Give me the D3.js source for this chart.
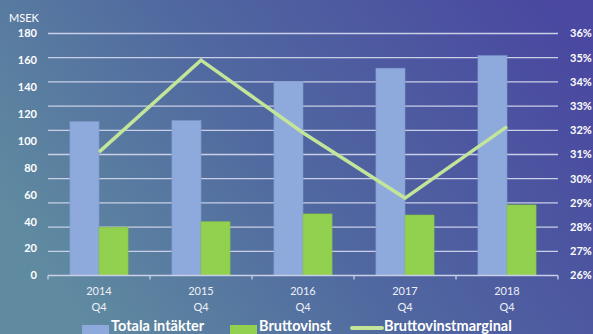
<!DOCTYPE html>
<html>
<head>
<meta charset="utf-8">
<script src="https://cdn.jsdelivr.net/npm/d3@7/dist/d3.min.js"></script>
<style>
  html, body { margin: 0; padding: 0; background: #4f6a9e; }
  svg { display: block; font-family: Lato, "Open Sans", sans-serif; }
</style>
</head>
<body>
<div id="chart"></div>
<script>
// ── Data ──
const years = ["2014", "2015", "2016", "2017", "2018"];
const quarter = "Q4";
const totalRevenue = [114.4, 115.2, 144.2, 154.2, 163.5];
const grossProfit = [35.9, 40.0, 45.8, 45.0, 52.5];
const grossMargin = [31.1, 34.9, 31.9, 29.2, 32.15];
const leftTicks = [0, 20, 40, 60, 80, 100, 120, 140, 160, 180];
const rightTicks = [26, 27, 28, 29, 30, 31, 32, 33, 34, 35, 36];
const seriesNames = ["Totala intäkter", "Bruttovinst", "Bruttovinstmarginal"];

const WIDTH = 593;
const HEIGHT = 334;
const margin = { top: 33.5, right: 35, bottom: 58.5, left: 48 };
const plotW = WIDTH - margin.left - margin.right;
const plotH = HEIGHT - margin.top - margin.bottom;

const BLUE = "#8eaadc";
const GREEN = "#92d050";
const LINE = "#c2e59a";

const svg = d3.select("#chart").append("svg")
    .attr("width", WIDTH)
    .attr("height", HEIGHT);

// background gradient
const defs = svg.append("defs");
const grad = defs.append("linearGradient")
    .attr("id", "bg")
    .attr("x1", "0%").attr("y1", "60%")
    .attr("x2", "100%").attr("y2", "20%");
grad.append("stop").attr("offset", "0%").attr("stop-color", "#5f8aa0");
grad.append("stop").attr("offset", "45%").attr("stop-color", "#5068a0");
grad.append("stop").attr("offset", "100%").attr("stop-color", "#4a48a0");
svg.append("rect").attr("width", WIDTH).attr("height", HEIGHT).attr("fill", "url(#bg)");

const g = svg.append("g").attr("transform", `translate(${margin.left},${margin.top})`);

// ── Scales ──
const x0 = d3.scaleBand().domain(years).range([0, plotW]).padding(0);
const groupW = x0.bandwidth() * 0.57;
const x1 = d3.scaleBand().domain(["rev", "gp"]).range([0, groupW]).padding(0);
const yL = d3.scaleLinear().domain([0, 180]).range([plotH, 0]);
const yR = d3.scaleLinear().domain([26, 36]).range([plotH, 0]);

// gridlines (follow the right axis)
g.append("g")
    .selectAll("line")
    .data(rightTicks.slice(1))
    .join("line")
    .attr("x1", 0).attr("x2", plotW)
    .attr("y1", d => yR(d)).attr("y2", d => yR(d))
    .attr("stroke", "#c9cfe6")
    .attr("stroke-width", 1.3);

// bars
const groups = g.append("g")
    .selectAll("g")
    .data(years)
    .join("g")
    .attr("transform", d => `translate(${x0(d) + (x0.bandwidth() - groupW) / 2},0)`);

groups.append("rect")
    .attr("x", x1("rev"))
    .attr("width", x1.bandwidth())
    .attr("y", (d, i) => yL(totalRevenue[i]))
    .attr("height", (d, i) => plotH - yL(totalRevenue[i]))
    .attr("fill", BLUE)
    .attr("stroke", "#7f9bd0")
    .attr("stroke-width", 0.6);

groups.append("rect")
    .attr("x", x1("gp"))
    .attr("width", x1.bandwidth())
    .attr("y", (d, i) => yL(grossProfit[i]))
    .attr("height", (d, i) => plotH - yL(grossProfit[i]))
    .attr("fill", GREEN)
    .attr("stroke", "#84c045")
    .attr("stroke-width", 0.6);

// margin line
const line = d3.line()
    .x((d, i) => x0(years[i]) + x0.bandwidth() / 2)
    .y(d => yR(d));
g.append("path")
    .datum(grossMargin)
    .attr("d", line)
    .attr("fill", "none")
    .attr("stroke", LINE)
    .attr("stroke-width", 3.5)
    .attr("stroke-linejoin", "miter");

// bottom axis
const xAxis = g.append("g")
    .attr("transform", `translate(0,${plotH})`);
xAxis.append("line")
    .attr("x1", 0).attr("x2", plotW)
    .attr("stroke", "#c9cfe6").attr("stroke-width", 1.3);
xAxis.selectAll("line.tick")
    .data(d3.range(years.length + 1))
    .join("line")
    .attr("class", "tick")
    .attr("x1", i => i * x0.step()).attr("x2", i => i * x0.step())
    .attr("y1", 0).attr("y2", 4)
    .attr("stroke", "#c9cfe6").attr("stroke-width", 1.3);

const catLabels = xAxis.selectAll("text")
    .data(years)
    .join("text")
    .attr("x", d => x0(d) + x0.bandwidth() / 2)
    .attr("text-anchor", "middle")
    .attr("fill", "#eef0f8")
    .attr("font-size", 11);
catLabels.append("tspan").attr("x", d => x0(d) + x0.bandwidth() / 2).attr("y", 19.5).text(d => d);
catLabels.append("tspan").attr("x", d => x0(d) + x0.bandwidth() / 2).attr("y", 35.5).text(quarter);

// left axis labels (scaled independently of gridlines)
g.append("g")
    .selectAll("text")
    .data(leftTicks)
    .join("text")
    .attr("x", -11)
    .attr("y", d => yL(d))
    .attr("dy", "0.35em")
    .attr("text-anchor", "end")
    .attr("fill", "#ffffff")
    .attr("font-size", 11)
    .attr("font-weight", "bold")
    .text(d => d);

svg.append("text")
    .attr("x", 9)
    .attr("y", 22)
    .attr("fill", "#ffffff")
    .attr("font-size", 11)
    .text("MSEK");

// right axis labels
g.append("g")
    .selectAll("text")
    .data(rightTicks)
    .join("text")
    .attr("x", plotW + 12)
    .attr("y", d => yR(d))
    .attr("dy", "0.35em")
    .attr("text-anchor", "start")
    .attr("fill", "#ffffff")
    .attr("font-size", 11)
    .attr("font-weight", "bold")
    .text(d => d + "%");

// legend
const legend = svg.append("g").attr("transform", "translate(0,326)");
const legendItems = [
    { name: seriesNames[0], x: 82, type: "rect", color: BLUE },
    { name: seriesNames[1], x: 230, type: "rect", color: GREEN },
    { name: seriesNames[2], x: 352, type: "line", color: LINE },
];
legendItems.forEach(it => {
    if (it.type === "rect") {
        legend.append("rect")
            .attr("x", it.x).attr("y", -1)
            .attr("width", 27).attr("height", 12)
            .attr("fill", it.color);
    } else {
        legend.append("line")
            .attr("x1", it.x).attr("x2", it.x + 30)
            .attr("y1", 2).attr("y2", 2)
            .attr("stroke", it.color)
            .attr("stroke-width", 4)
            .attr("stroke-linecap", "round");
    }
    legend.append("text")
        .attr("x", it.x + (it.type === "rect" ? 29 : 32))
        .attr("y", 0)
        .attr("dy", "0.35em")
        .attr("fill", "#ffffff")
        .attr("font-size", 14.5)
        .attr("font-weight", "bold")
        .text(it.name);
});
</script>
</body>
</html>
